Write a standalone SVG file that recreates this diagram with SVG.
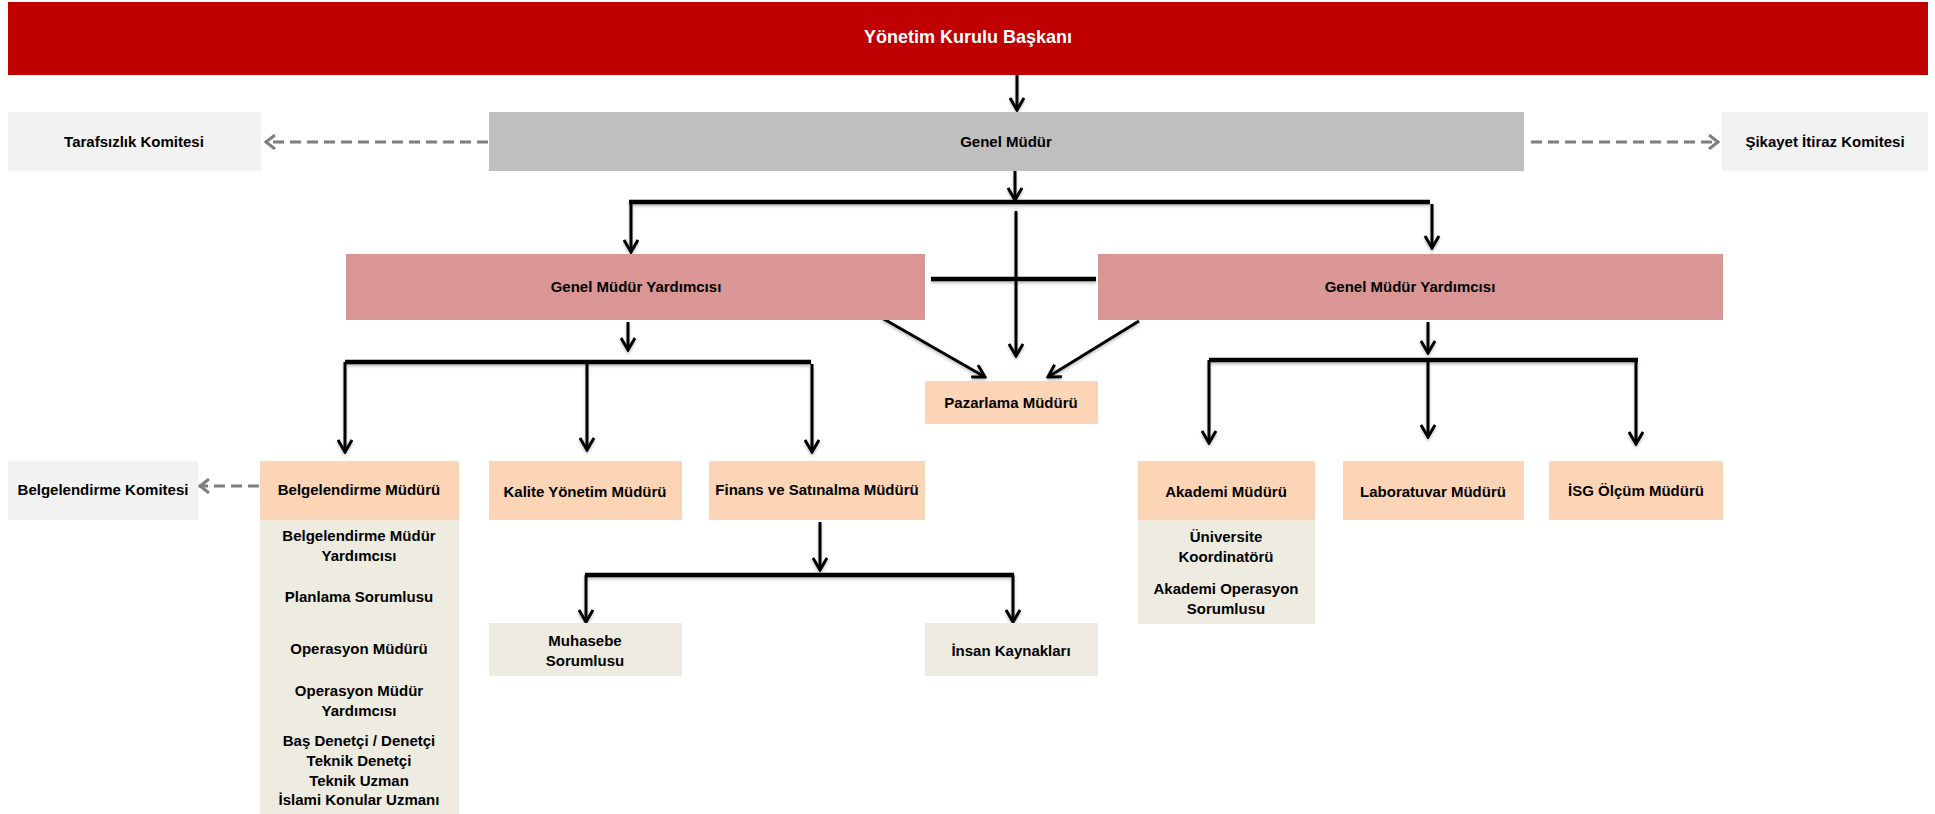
<svg xmlns="http://www.w3.org/2000/svg" width="1935" height="814" viewBox="0 0 1935 814">
<defs>
<style>
text{font-family:"Liberation Sans",Arial,sans-serif;font-weight:bold;font-size:15px;fill:#000;text-anchor:middle}
.title{font-size:18px;fill:#fff}
.red{fill:#c00000}
.gm{fill:#bfbfbf}
.com{fill:#f2f2f2}
.gmy{fill:#d99694}
.mgr{fill:#fbd5b5}
.sub{fill:#eeece1}
.ln{stroke:#000;stroke-width:3;fill:none}
.bus{stroke:#000;stroke-width:4.5;fill:none}
.arr{marker-end:url(#ah)}
.dash{stroke:#7f7f7f;stroke-width:3;stroke-dasharray:11 6;fill:none;marker-end:url(#ahg)}
</style>
<marker id="ah" markerUnits="userSpaceOnUse" markerWidth="16" markerHeight="16" viewBox="0 0 16 16" refX="14" refY="8" orient="auto">
<path d="M2,1 L14,8 L2,15" fill="none" stroke="#000" stroke-width="3"/>
</marker>
<marker id="ahg" markerUnits="userSpaceOnUse" markerWidth="16" markerHeight="16" viewBox="0 0 16 16" refX="14" refY="8" orient="auto">
<path d="M4,1 L13,8 L4,15" fill="none" stroke="#7f7f7f" stroke-width="3"/>
</marker>
<filter id="sh" x="-5%" y="-20%" width="110%" height="140%">
<feDropShadow dx="0" dy="2" stdDeviation="1.5" flood-color="#000" flood-opacity="0.25"/>
</filter>
</defs>

<g id="connectors">
<g filter="url(#sh)">
<path class="ln arr" d="M1017,75 V110"/>
<path class="ln arr" d="M1015,171 V200"/>
<path class="bus" d="M629,202 H1430"/>
<path class="ln arr" d="M631,202 V252"/>
<path class="ln arr" d="M1432,204 V248"/>
<path class="ln arr" d="M1016,211 V356"/>
<path class="bus" d="M931,279 H1096"/>
<path class="ln arr" d="M882,318 L985,377"/>
<path class="ln arr" d="M1139,321 L1048,377"/>
<path class="ln arr" d="M628,322 V350"/>
<path class="bus" d="M345,362 H811"/>
<path class="ln arr" d="M345,362 V452"/>
<path class="ln arr" d="M587,362 V450"/>
<path class="ln arr" d="M812,364 V452"/>
<path class="ln arr" d="M1428,322 V353"/>
<path class="bus" d="M1209,360 H1638"/>
<path class="ln arr" d="M1209,360 V443"/>
<path class="ln arr" d="M1428,360 V437"/>
<path class="ln arr" d="M1636,360 V444"/>
<path class="ln arr" d="M820,522 V570"/>
<path class="bus" d="M585,575 H1014"/>
<path class="ln arr" d="M586,575 V622"/>
<path class="ln arr" d="M1013,575 V622"/>
</g>
<path class="dash" d="M488,142 H265"/>
<path class="dash" d="M1531,142 H1719"/>
<path class="dash" d="M259,486 H199"/>
</g>

<g id="n-yk">
<rect class="red" x="8" y="2" width="1920" height="73"/>
<text class="title" x="968" y="43">Yönetim Kurulu Başkanı</text>
</g>
<g id="n-tarafsizlik">
<rect class="com" x="8" y="112" width="253" height="59"/>
<text x="134" y="147">Tarafsızlık Komitesi</text>
</g>
<g id="n-gm">
<rect class="gm" x="489" y="112" width="1035" height="59"/>
<text x="1006" y="147">Genel Müdür</text>
</g>
<g id="n-sikayet">
<rect class="com" x="1722" y="112" width="206" height="59"/>
<text x="1825" y="147">Şikayet İtiraz Komitesi</text>
</g>
<g id="n-gmy1">
<rect class="gmy" x="346" y="254" width="579" height="66"/>
<text x="636" y="292">Genel Müdür Yardımcısı</text>
</g>
<g id="n-gmy2">
<rect class="gmy" x="1098" y="254" width="625" height="66"/>
<text x="1410" y="292">Genel Müdür Yardımcısı</text>
</g>
<g id="n-pazarlama">
<rect class="mgr" x="925" y="381" width="173" height="43"/>
<text x="1011" y="408">Pazarlama Müdürü</text>
</g>
<g id="n-belkom">
<rect class="com" x="8" y="461" width="190" height="59"/>
<text x="103" y="495">Belgelendirme Komitesi</text>
</g>
<g id="n-belmud">
<rect class="sub" x="260" y="519" width="199" height="295"/>
<rect class="mgr" x="260" y="461" width="199" height="59"/>
<text x="359" y="495">Belgelendirme Müdürü</text>
<text x="359" y="541">Belgelendirme Müdür</text>
<text x="359" y="561">Yardımcısı</text>
<text x="359" y="602">Planlama Sorumlusu</text>
<text x="359" y="654">Operasyon Müdürü</text>
<text x="359" y="696">Operasyon Müdür</text>
<text x="359" y="716">Yardımcısı</text>
<text x="359" y="746">Baş Denetçi / Denetçi</text>
<text x="359" y="766">Teknik Denetçi</text>
<text x="359" y="786">Teknik Uzman</text>
<text x="359" y="805">İslami Konular Uzmanı</text>
</g>
<g id="n-kalite">
<rect class="mgr" x="489" y="461" width="193" height="59"/>
<text x="585" y="497">Kalite Yönetim Müdürü</text>
</g>
<g id="n-finans">
<rect class="mgr" x="709" y="461" width="216" height="59"/>
<text x="817" y="495">Finans ve Satınalma Müdürü</text>
</g>
<g id="n-muhasebe">
<rect class="sub" x="489" y="623" width="193" height="53"/>
<text x="585" y="646">Muhasebe</text>
<text x="585" y="666">Sorumlusu</text>
</g>
<g id="n-ik">
<rect class="sub" x="925" y="623" width="173" height="53"/>
<text x="1011" y="656">İnsan Kaynakları</text>
</g>
<g id="n-akademi">
<rect class="sub" x="1138" y="519" width="177" height="105"/>
<rect class="mgr" x="1138" y="461" width="177" height="59"/>
<text x="1226" y="497">Akademi Müdürü</text>
<text x="1226" y="542">Üniversite</text>
<text x="1226" y="562">Koordinatörü</text>
<text x="1226" y="594">Akademi Operasyon</text>
<text x="1226" y="614">Sorumlusu</text>
</g>
<g id="n-lab">
<rect class="mgr" x="1343" y="461" width="181" height="59"/>
<text x="1433" y="497">Laboratuvar Müdürü</text>
</g>
<g id="n-isg">
<rect class="mgr" x="1549" y="461" width="174" height="59"/>
<text x="1636" y="496">İSG Ölçüm Müdürü</text>
</g>
</svg>
